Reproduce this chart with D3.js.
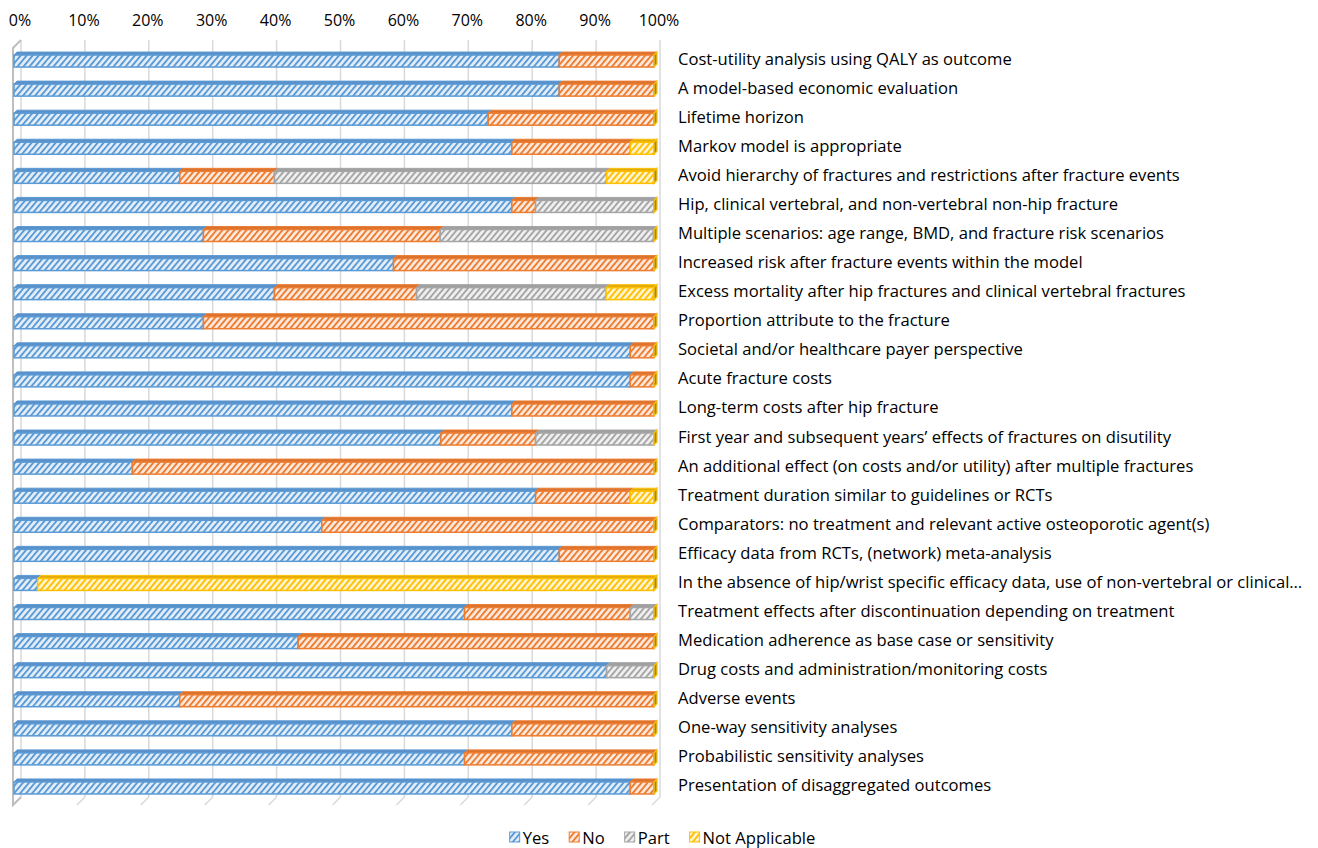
<!DOCTYPE html>
<html>
<head>
<meta charset="utf-8">
<script src="https://cdn.jsdelivr.net/npm/d3@7/dist/d3.min.js"></script>
<style>
  body { margin: 0; background: #fff; }
  text { font-family: "Open Sans", Lato, sans-serif; fill: #000; }
</style>
</head>
<body>
<svg class="chart" width="1318" height="848"></svg>
<script>
// categories, top to bottom
var categories = [
  "Cost-utility analysis using QALY as outcome",
  "A model-based economic evaluation",
  "Lifetime horizon",
  "Markov model is appropriate",
  "Avoid hierarchy of fractures and restrictions after fracture events",
  "Hip, clinical vertebral, and non-vertebral non-hip fracture",
  "Multiple scenarios: age range, BMD, and fracture risk scenarios",
  "Increased risk after fracture events within the model",
  "Excess mortality after hip fractures and clinical vertebral fractures",
  "Proportion attribute to the fracture",
  "Societal and/or healthcare payer perspective",
  "Acute fracture costs",
  "Long-term costs after hip fracture",
  "First year and subsequent years\u2019 effects of fractures on disutility",
  "An additional effect (on costs and/or utility) after multiple fractures",
  "Treatment duration similar to guidelines or RCTs",
  "Comparators: no treatment and relevant active osteoporotic agent(s)",
  "Efficacy data from RCTs, (network) meta-analysis",
  "In the absence of hip/wrist specific efficacy data, use of non-vertebral or clinical\u2026",
  "Treatment effects after discontinuation depending on treatment",
  "Medication adherence as base case or sensitivity",
  "Drug costs and administration/monitoring costs",
  "Adverse events",
  "One-way sensitivity analyses",
  "Probabilistic sensitivity analyses",
  "Presentation of disaggregated outcomes"
];

// percentages
var yesValues  = [85.2, 85.2, 74.1, 77.8, 25.9, 77.8, 29.6, 59.3, 40.7, 29.6, 96.3, 96.3, 77.8, 66.7, 18.5, 81.5, 48.1, 85.2, 3.7, 70.4, 44.4, 92.6, 25.9, 77.8, 70.4, 96.3];
var noValues   = [14.8, 14.8, 25.9, 18.5, 14.8, 3.7, 37.0, 40.7, 22.2, 70.4, 3.7, 3.7, 22.2, 14.8, 81.5, 14.8, 51.9, 14.8, 0, 25.9, 55.6, 0, 74.1, 22.2, 29.6, 3.7];
var partValues = [0, 0, 0, 0, 51.9, 18.5, 33.3, 0, 29.6, 0, 0, 0, 0, 18.5, 0, 0, 0, 0, 0, 3.7, 0, 7.4, 0, 0, 0, 0];
var naValues   = [0, 0, 0, 3.7, 7.4, 0, 0, 0, 7.4, 0, 0, 0, 0, 0, 0, 3.7, 0, 0, 96.3, 0, 0, 0, 0, 0, 0, 0];

var seriesNames = ["Yes", "No", "Part", "Not Applicable"];
var tickValues = [0, 10, 20, 30, 40, 50, 60, 70, 80, 90, 100];

var colors = {
  "Yes":            {line: "#5B9BD5", bg: "#E4EEF9", top: "#5B8FC8"},
  "No":             {line: "#ED7D31", bg: "#FCE9DD", top: "#D9732F"},
  "Part":           {line: "#A5A5A5", bg: "#F0F0F0", top: "#A0A0A0"},
  "Not Applicable": {line: "#FFC000", bg: "#FFF4CF", top: "#E0AA10"}
};

var table = categories.map(function(c, i) {
  return {name: c, "Yes": yesValues[i], "No": noValues[i], "Part": partValues[i], "Not Applicable": naValues[i]};
});

var svg = d3.select("svg.chart");
var defs = svg.append("defs");

// hatch fill for each series
seriesNames.forEach(function(s, i) {
  var p = defs.append("pattern")
    .attr("id", "hatch" + i)
    .attr("patternUnits", "userSpaceOnUse")
    .attr("width", 4.6).attr("height", 4.6)
    .attr("patternTransform", "rotate(40)");
  p.append("rect").attr("width", 4.6).attr("height", 4.6).attr("fill", colors[s].bg);
  p.append("rect").attr("width", 1.9).attr("height", 4.6).attr("fill", colors[s].line);
});

// 3D geometry: back wall vs front plane
var depthX = 8, depthY = 8;
var xFront = d3.scaleLinear().domain([0, 100]).range([14, 654]);
var xBack = d3.scaleLinear().domain([0, 100]).range([21, 660]);

var y = d3.scaleBand()
  .domain(categories)
  .range([46.5, 802.5])
  .paddingInner(0.587)
  .paddingOuter(0.2935);

var wallTop = 40, floorBack = 797;
var gridColor = "#D9D9D9";

// back wall gridlines + floor lines
var grid = svg.append("g");
tickValues.forEach(function(t) {
  var xb = xBack(t);
  grid.append("line")
    .attr("x1", xb).attr("x2", xb)
    .attr("y1", wallTop).attr("y2", floorBack)
    .attr("stroke", gridColor).attr("stroke-width", 1.5);
  grid.append("line")
    .attr("x1", xb).attr("y1", floorBack)
    .attr("x2", xb - depthX).attr("y2", floorBack + depthY)
    .attr("stroke", gridColor).attr("stroke-width", 1.5);
});
// side wall
grid.append("path")
  .attr("d", "M" + xBack(0) + "," + wallTop +
             " L" + (xBack(0) - depthX) + "," + (wallTop + depthY) +
             " L" + (xBack(0) - depthX) + "," + (floorBack + depthY) +
             " L" + xBack(0) + "," + floorBack)
  .attr("fill", "none").attr("stroke", "#BFBFBF").attr("stroke-width", 2);

// tick labels on top
svg.append("g").selectAll("text")
  .data(tickValues)
  .enter().append("text")
  .attr("x", function(d) { return xBack(d) - 1; })
  .attr("y", 20)
  .attr("text-anchor", "middle")
  .attr("dominant-baseline", "central")
  .style("font-size", "16px")
  .text(function(d) { return d + "%"; });

var stacked = d3.stack().keys(seriesNames)(table);
var bw = y.bandwidth();
var dd = 3; // bar depth

var rows = svg.append("g").selectAll("g.row")
  .data(table)
  .enter().append("g").attr("class", "row");

rows.each(function(row, ri) {
  var g = d3.select(this);
  var top = y(row.name), bot = top + bw;
  stacked.forEach(function(layer, si) {
    var seg = layer[ri];
    var s = seriesNames[si];
    var x0 = xFront(seg[0]), x1 = xFront(seg[1]);
    if (seg[1] - seg[0] > 0) {
      // top face
      g.append("path")
        .attr("d", "M" + x0 + "," + top + " L" + (x0 + dd) + "," + (top - dd) +
                   " L" + (x1 + dd) + "," + (top - dd) + " L" + x1 + "," + top + "Z")
        .attr("fill", colors[s].top)
        .attr("stroke", colors[s].line).attr("stroke-width", 1);
      // front face
      g.append("rect")
        .attr("x", x0).attr("y", top)
        .attr("width", x1 - x0).attr("height", bw)
        .attr("fill", "url(#hatch" + si + ")")
        .attr("stroke", colors[s].line).attr("stroke-width", 1.5);
    }
  });
  // end side face (last series, at 100%)
  var xe = xFront(100);
  g.append("path")
    .attr("d", "M" + xe + "," + top + " L" + (xe + dd) + "," + (top - dd) +
               " L" + (xe + dd) + "," + (bot - dd) + " L" + xe + "," + bot + "Z")
    .attr("fill", "#8F8A40")
    .attr("stroke", colors["Not Applicable"].line).attr("stroke-width", 1.3);
});

// category labels
svg.append("g").selectAll("text")
  .data(categories)
  .enter().append("text")
  .attr("x", 678)
  .attr("y", function(d) { return y(d) + bw / 2 - 3; })
  .attr("dominant-baseline", "central")
  .style("font-size", "16.6px")
  .text(function(d) { return d; });

// legend, laid out left to right from measured text widths
var legend = svg.append("g").attr("class", "legend");
var items = legend.selectAll("g")
  .data(seriesNames)
  .enter().append("g");
items.append("rect")
  .attr("x", 0).attr("y", -5).attr("width", 10).attr("height", 10)
  .attr("fill", function(d, i) { return "url(#hatch" + i + ")"; })
  .attr("stroke", function(d) { return colors[d].line; }).attr("stroke-width", 1);
items.append("text")
  .attr("x", 13).attr("y", 0)
  .attr("dominant-baseline", "central")
  .style("font-size", "16.6px")
  .text(function(d) { return d; });
var lx = 0;
items.each(function() {
  var w = d3.select(this).select("text").node().getComputedTextLength();
  d3.select(this).attr("transform", "translate(" + lx + ",837)");
  lx += 13 + w + 20;
});
lx -= 20;
legend.attr("transform", "translate(" + (662.5 - lx / 2) + ",0)");
</script>
</body>
</html>
